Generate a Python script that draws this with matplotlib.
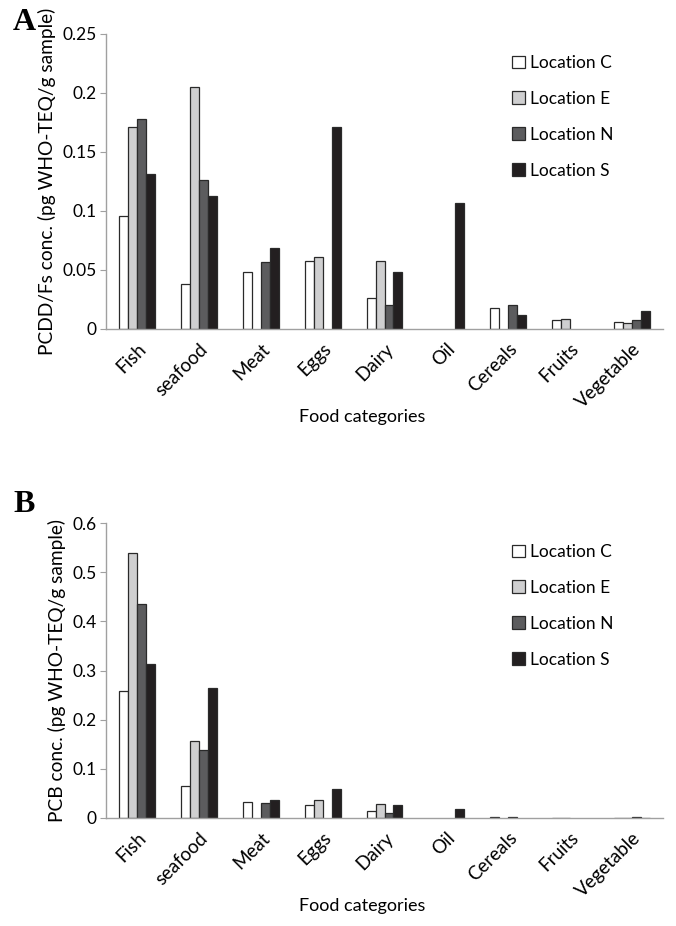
import numpy as np
import matplotlib
matplotlib.use("Agg")
import matplotlib.pyplot as plt

plt.rcParams["font.family"] = ["Lato", "DejaVu Sans"]

categories = ["Fish", "seafood", "Meat", "Eggs", "Dairy", "Oil", "Cereals", "Fruits", "Vegetable"]
locations = ["Location C", "Location E", "Location N", "Location S"]

# panel A: PCDD/Fs (pg WHO-TEQ/g sample); 0 = no bar
pcdd_c = [0.096, 0.038, 0.048, 0.058, 0.026, 0.0, 0.018, 0.008, 0.006]
pcdd_e = [0.171, 0.205, 0.0, 0.061, 0.058, 0.0, 0.0, 0.0085, 0.005]
pcdd_n = [0.178, 0.126, 0.057, 0.0, 0.020, 0.0, 0.020, 0.0, 0.008]
pcdd_s = [0.131, 0.113, 0.069, 0.171, 0.048, 0.107, 0.012, 0.0, 0.015]

# panel B: PCB (pg WHO-TEQ/g sample)
pcb_c = [0.258, 0.065, 0.032, 0.026, 0.014, 0.0, 0.002, 0.001, 0.001]
pcb_e = [0.538, 0.157, 0.0, 0.036, 0.028, 0.0, 0.0, 0.001, 0.001]
pcb_n = [0.435, 0.138, 0.031, 0.0, 0.011, 0.0, 0.003, 0.0, 0.002]
pcb_s = [0.314, 0.265, 0.037, 0.058, 0.026, 0.018, 0.0, 0.0, 0.001]

colors = ["#ffffff", "#cfcfd0", "#5c5c5e", "#231f20"]
axis_grey = "#a0a0a0"

W, H = 676, 926


def draw_panel(ax, series, ymax, ystep, ylabel, letter, letter_y, fig):
    x = np.arange(len(categories))
    w = 0.145
    for i, (vals, col) in enumerate(zip(series, colors)):
        vals = np.asarray(vals)
        keep = vals > 0
        ax.bar(x[keep] + (i - 1.5) * w, vals[keep], w, color=col,
               edgecolor="#2a2a2a", linewidth=0.9, label=locations[i])
    ax.set_xlim(-0.5, len(categories) - 0.5)
    ax.set_ylim(0, ymax)
    ticks = np.arange(0, ymax + ystep / 2, ystep)
    ax.set_yticks(ticks)
    ax.set_yticklabels(["0"] + [f"{t:g}" for t in ticks[1:]])
    ax.set_xticks(x)
    ax.set_xticklabels(categories, rotation=45, ha="right", rotation_mode="anchor")
    ax.tick_params(axis="x", length=0, pad=8, labelsize=13.5)
    ax.tick_params(axis="y", length=4, color=axis_grey, labelsize=12.5, pad=3)
    for s in ["top", "right"]:
        ax.spines[s].set_visible(False)
    for s in ["left", "bottom"]:
        ax.spines[s].set_color(axis_grey)
        ax.spines[s].set_linewidth(1.0)
    ax.set_ylabel(ylabel, fontsize=13.8, labelpad=4)
    ax.set_xlabel("Food categories", fontsize=13)
    ax_h = ax.get_position().height * H
    ax_w = ax.get_position().width * W
    ax.xaxis.set_label_coords((362 - 106) / ax_w, -80 / ax_h)
    ax.legend(loc="upper left", bbox_to_anchor=((505 - 106) / ax_w, 1 - 14 / ax_h),
              frameon=False, fontsize=12.5, handlelength=0.75, handleheight=0.75,
              handletextpad=0.3, labelspacing=1.15, borderaxespad=0)
    fig.text(13 / W, 1 - letter_y / H, letter, fontsize=23, fontweight="bold",
             family="Liberation Serif", va="center", ha="left")


fig = plt.figure(figsize=(W / 100, H / 100), dpi=100)
ax_a = fig.add_axes([106 / W, 1 - 329 / H, 557 / W, 295 / H])
ax_b = fig.add_axes([106 / W, 1 - 818 / H, 557 / W, 295 / H])

draw_panel(ax_a, [pcdd_c, pcdd_e, pcdd_n, pcdd_s], 0.25, 0.05,
           "PCDD/Fs conc. (pg WHO-TEQ/g sample)", "A", 22, fig)
draw_panel(ax_b, [pcb_c, pcb_e, pcb_n, pcb_s], 0.6, 0.1,
           "PCB conc. (pg WHO-TEQ/g sample)", "B", 505, fig)

fig.savefig("out.png", dpi=100)
